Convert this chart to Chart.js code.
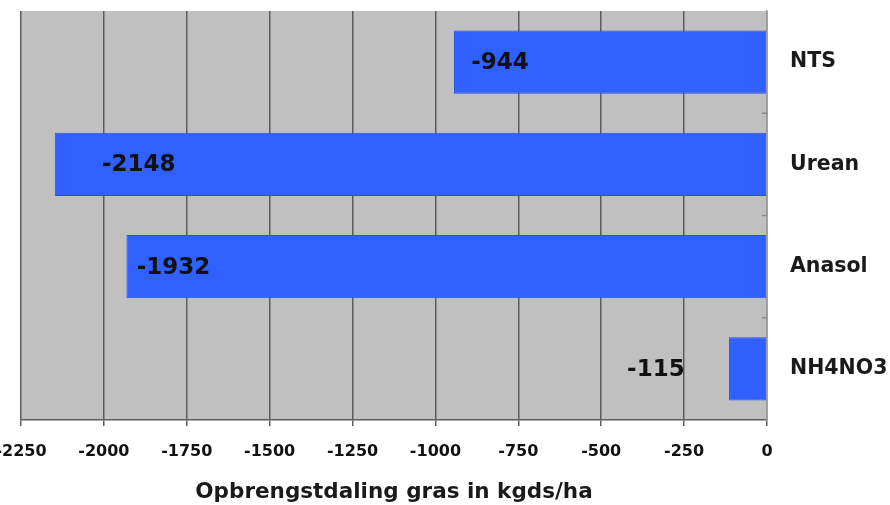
<!DOCTYPE html>
<html>
<head>
<meta charset="utf-8">
<script src="https://cdn.jsdelivr.net/npm/chart.js@4/dist/chart.umd.min.js"></script>
<style>
html,body{margin:0;padding:0;background:#fff;overflow:hidden;}
#wrap{position:absolute;left:0;top:0;width:890px;height:505px;}
</style>
</head>
<body>
<div id="wrap"><canvas id="c" width="890" height="505"></canvas></div>
<script>
const categories = ["NTS", "Urean", "Anasol", "NH4NO3"];
const values = [-944, -2148, -1932, -115];
const valueLabels = ["-944", "-2148", "-1932", "-115"];
const labelOffsets = [46, 84, 47, -73];
const axisTitle = "Opbrengstdaling gras in kgds/ha";
const xMin = -2250, xMax = 0, xStep = 250;

const FONT = "'DejaVu Sans', sans-serif";

const bgPlugin = {
  id: 'plotBg',
  beforeDraw(chart) {
    const a = chart.chartArea, ctx = chart.ctx;
    ctx.save();
    ctx.fillStyle = '#c0c0c0';
    ctx.fillRect(a.left, a.top, a.right - a.left, a.bottom - a.top);
    ctx.restore();
  }
};

const yTickPlugin = {
  id: 'yInnerTicks',
  afterDatasetsDraw(chart) {
    const y = chart.scales.y, a = chart.chartArea, ctx = chart.ctx;
    ctx.save();
    ctx.strokeStyle = '#8a8a8a';
    ctx.lineWidth = 1.5;
    for (let i = 1; i < categories.length; i++) {
      const py = (y.getPixelForValue(i - 1) + y.getPixelForValue(i)) / 2;
      ctx.beginPath();
      ctx.moveTo(a.right - 5, py);
      ctx.lineTo(a.right, py);
      ctx.stroke();
    }
    ctx.restore();
  }
};

const labelPlugin = {
  id: 'valueLabels',
  afterDatasetsDraw(chart) {
    const meta = chart.getDatasetMeta(0), ctx = chart.ctx;
    ctx.save();
    ctx.font = "bold 23px " + FONT;
    ctx.fillStyle = '#111';
    ctx.textAlign = 'center';
    ctx.textBaseline = 'middle';
    meta.data.forEach((el, i) => {
      ctx.fillText(valueLabels[i], el.x + labelOffsets[i], el.y + 1);
    });
    ctx.restore();
  }
};

new Chart(document.getElementById('c'), {
  type: 'bar',
  data: {
    labels: categories,
    datasets: [{
      data: values,
      backgroundColor: '#3060ff',
      borderColor: '#2a52e0',
      borderWidth: 1,
      borderSkipped: false,
      categoryPercentage: 1,
      barPercentage: 0.62
    }]
  },
  options: {
    indexAxis: 'y',
    responsive: false,
    animation: false,
    devicePixelRatio: 1,
    layout: { padding: { top: 11, left: 21, right: 0, bottom: 0 } },
    plugins: { legend: { display: false }, tooltip: { enabled: false } },
    scales: {
      x: {
        min: xMin, max: xMax,
        ticks: { stepSize: xStep, color: '#111', font: { family: FONT, size: 16, weight: 'bold' }, padding: 16, maxRotation: 0, autoSkip: false,
                 callback: (v) => String(v) },
        grid: { color: '#5c5c5c', lineWidth: 1.5, tickLength: 6, drawTicks: true },
        border: { color: '#5c5c5c', width: 1.5 },
        title: { display: true, text: axisTitle, color: '#1a1a1a', font: { family: FONT, size: 21.5, weight: 'bold' }, padding: { top: 0, bottom: 0 } },
        afterFit(s) { s.height = 85; s.paddingLeft = 0; s.paddingRight = 0; }
      },
      y: {
        position: 'right',
        ticks: { color: '#1a1a1a', font: { family: FONT, size: 20.5, weight: 'bold' }, padding: 23 },
        grid: { display: true, drawOnChartArea: false, drawTicks: false },
        border: { color: '#9a9a9a', width: 1.5 },
        afterFit(s) { s.width = 123; s.paddingTop = 0; s.paddingBottom = 0; }
      }
    }
  },
  plugins: [bgPlugin, yTickPlugin, labelPlugin]
});
</script>
</body>
</html>
